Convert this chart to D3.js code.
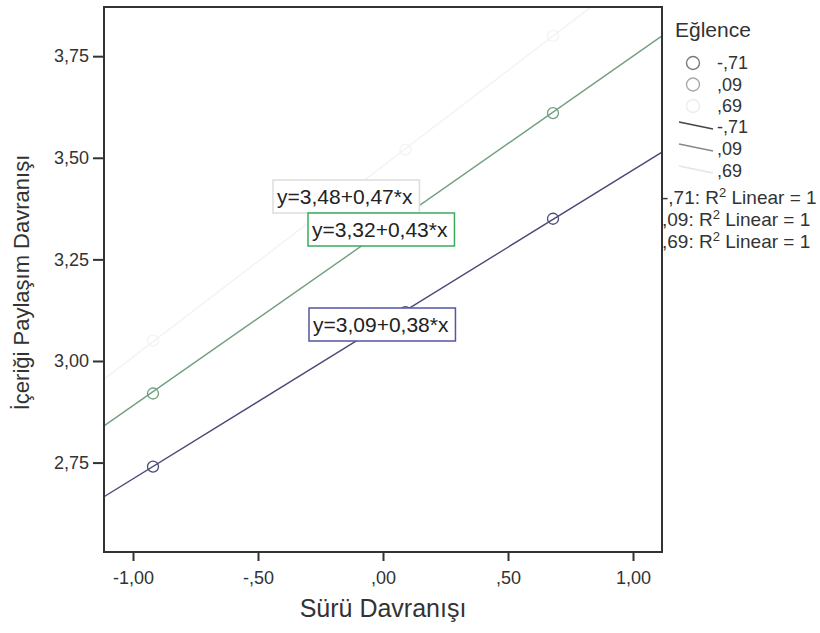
<!DOCTYPE html>
<html lang="tr">
<head>
  <meta charset="UTF-8">
  <title>İçeriği Paylaşım Davranışı</title>
  <script src="https://d3js.org/d3.v7.min.js"></script>
  <style>
    body {
      margin: 0;
      background: #fff;
      font-family: "Liberation Sans", Arial, sans-serif;
    }
    svg {
      display: block;
    }
    .tick text {
      fill: #333;
      font-size: 18px;
    }
    .tick line {
      stroke: #333;
      stroke-width: 2px;
    }
  </style>
</head>
<body>
  <svg width="820" height="633"></svg>

  <script>
    // moderator groups (Eğlence) and their fitted lines
    const groups = ["-,71", ",09", ",69"];
    const intercepts = [3.09, 3.32, 3.48];
    const slopes = [0.38, 0.43, 0.47];
    const equations = ["y=3,09+0,38*x", "y=3,32+0,43*x", "y=3,48+0,47*x"];

    // plotted points, one row per group
    const xPoints = [-0.92, 0.09, 0.68];
    const yPoints = [
      [2.74, 3.12, 3.35],
      [2.92, 3.36, 3.61],
      [3.05, 3.52, 3.80]
    ];

    const xTicks = [-1, -0.5, 0, 0.5, 1];
    const yTicks = [2.75, 3.00, 3.25, 3.50, 3.75];

    const lineColors = ["#4a4a78", "#6f9f7e", "#f3f3f3"];
    const boxColors = ["#5555a0", "#3aaa5c", "#dddddd"];
    const legendCircleColors = ["#7a7a7a", "#a8a8a8", "#ececec"];
    const legendLineColors = ["#444", "#888", "#e4e4e4"];
    // label box corners (pixels)
    const labelPos = [[309, 308], [308, 213], [273, 180]];

    const svg = d3.select("svg");
    const plot = { left: 104, right: 662, top: 7, bottom: 552 };

    const x = d3.scaleLinear().domain([-1.116, 1.116]).range([plot.left, plot.right]);
    const y = d3.scaleLinear().domain([2.530, 3.871]).range([plot.bottom, plot.top]);

    // SPSS style numbers: comma decimals, no leading zero
    const fmt = v => {
      let s = Math.abs(v).toFixed(2).replace(".", ",");
      if (s.startsWith("0")) s = s.slice(1);
      return (v < 0 ? "-" : "") + s;
    };

    svg.append("defs").append("clipPath").attr("id", "clip")
      .append("rect")
      .attr("x", plot.left).attr("y", plot.top)
      .attr("width", plot.right - plot.left)
      .attr("height", plot.bottom - plot.top);

    // Axes
    const xAxis = svg.append("g")
      .attr("transform", `translate(0,${plot.bottom})`)
      .call(d3.axisBottom(x).tickValues(xTicks).tickFormat(fmt).tickSize(9).tickPadding(6));
    xAxis.select(".domain").remove();
    xAxis.selectAll("text").attr("dy", "0.95em");

    const yAxis = svg.append("g")
      .attr("transform", `translate(${plot.left},0)`)
      .call(d3.axisLeft(y).tickValues(yTicks).tickFormat(fmt).tickSize(11).tickPadding(4));
    yAxis.select(".domain").remove();

    // Fit lines and points, faint group first
    const g = svg.append("g").attr("clip-path", "url(#clip)");
    const line = d3.line().x(d => x(d[0])).y(d => y(d[1]));

    [2, 1, 0].forEach(i => {
      const ends = x.domain().map(v => [v, intercepts[i] + slopes[i] * v]);
      g.append("path")
        .datum(ends)
        .attr("d", line)
        .attr("fill", "none")
        .attr("stroke", lineColors[i])
        .attr("stroke-width", 1.4);

      g.selectAll(`.pt${i}`)
        .data(xPoints.map((v, j) => [v, yPoints[i][j]]))
        .enter().append("circle")
        .attr("class", `pt${i}`)
        .attr("cx", d => x(d[0]))
        .attr("cy", d => y(d[1]))
        .attr("r", 5.5)
        .attr("fill", "none")
        .attr("stroke", lineColors[i])
        .attr("stroke-width", 1.3);
    });

    // Frame
    svg.append("rect")
      .attr("x", plot.left).attr("y", plot.top)
      .attr("width", plot.right - plot.left)
      .attr("height", plot.bottom - plot.top)
      .attr("fill", "none")
      .attr("stroke", "#333")
      .attr("stroke-width", 2);

    // Equation labels
    [2, 1, 0].forEach(i => {
      const [bx, by] = labelPos[i];
      const box = svg.append("rect").attr("fill", "#fff");
      const t = svg.append("text")
        .attr("x", bx + 4)
        .attr("y", by + 24)
        .attr("font-size", 21)
        .attr("fill", "#222")
        .text(equations[i]);
      const w = t.node().getComputedTextLength();
      box.attr("x", bx).attr("y", by)
        .attr("width", w + 11).attr("height", 33)
        .attr("stroke", boxColors[i])
        .attr("stroke-width", 1.5);
    });

    // Axis titles
    svg.append("text")
      .attr("x", (plot.left + plot.right) / 2)
      .attr("y", 617)
      .attr("text-anchor", "middle")
      .attr("font-size", 25)
      .attr("fill", "#333")
      .text("Sürü Davranışı");

    svg.append("text")
      .attr("transform", `translate(29,${(plot.top + plot.bottom) / 2 + 3}) rotate(-90)`)
      .attr("text-anchor", "middle")
      .attr("font-size", 22)
      .attr("fill", "#333")
      .text("İçeriği Paylaşım Davranışı");

    // Legend
    const legend = svg.append("g").attr("font-size", 18).attr("fill", "#333");
    legend.append("text").attr("x", 675).attr("y", 37).attr("font-size", 21).text("Eğlence");

    groups.forEach((name, i) => {
      const cy = 63 + i * 21.5;
      legend.append("circle")
        .attr("cx", 693).attr("cy", cy).attr("r", 6.5)
        .attr("fill", "none")
        .attr("stroke", legendCircleColors[i])
        .attr("stroke-width", 1.4);
      legend.append("text").attr("x", 717).attr("y", cy + 6).text(name);
    });

    groups.forEach((name, i) => {
      const ly = 127 + i * 22;
      legend.append("line")
        .attr("x1", 679).attr("y1", ly - 5)
        .attr("x2", 713).attr("y2", ly + 2)
        .attr("stroke", legendLineColors[i])
        .attr("stroke-width", 1.4);
      legend.append("text").attr("x", 717).attr("y", ly + 6).text(name);
    });

    groups.forEach((name, i) => {
      const t = legend.append("text").attr("x", 662).attr("y", 204 + i * 22).attr("font-size", 19);
      t.append("tspan").text(name + ": R");
      t.append("tspan").attr("font-size", 13).attr("dy", -7).text("2");
      t.append("tspan").attr("dy", 7).text(" Linear = 1");
    });
  </script>
</body>
</html>
